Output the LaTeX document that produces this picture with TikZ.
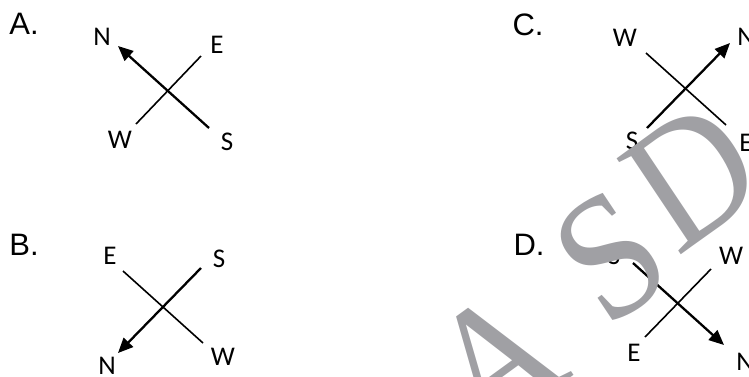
\documentclass[tikz,border=0pt]{standalone}
\usepackage{fontspec}
\setmainfont{Carlito}
\newfontfamily\optfont{Liberation Sans}
\newfontfamily\markfont{Liberation Serif}
\usetikzlibrary{arrows.meta}
\definecolor{markgray}{RGB}{160,160,164}

\begin{document}
\begin{tikzpicture}[x=1pt, y=-1pt,
    opt/.style={font=\optfont\fontsize{31}{31}\selectfont, inner sep=0},
    dir/.style={font=\fontsize{27}{27}\selectfont, inner sep=0},
    arm/.style={line width=1.6pt},
    pointer/.style={line width=2.3pt, -{Triangle[length=15pt, width=13pt]}},
    letterat/.style={cm={1.294, 0.94, -0.98, 1.465, #1}},
    wmletter/.style={transform shape, anchor=base west, text=markgray, inner sep=0,
        font=\markfont\fontsize{100}{100}\selectfont}]
    \useasboundingbox (0, 0) rectangle (749, 376);
    % option A
    \node [opt] (optA) at (24, 24) {A.};
    \node [dir] (aN) at (102, 37) {N};
    \node [dir] (aE) at (217, 45) {E};
    \node [dir] (aW) at (120, 140) {W};
    \node [dir] (aS) at (227, 142) {S};
    \coordinate (aNend) at (118, 46); \coordinate (aSend) at (209, 128);
    \coordinate (aEend) at (201, 56); \coordinate (aWend) at (136, 124);
    \draw [arm] (aEend)--(aWend);
    \draw [pointer] (aSend)--(aNend);
    % option B
    \node [opt] (optB) at (24, 245) {B.};
    \node [dir] (bE) at (110, 256) {E};
    \node [dir] (bS) at (219, 259) {S};
    \node [dir] (bW) at (223, 357) {W};
    \node [dir] (bN) at (107, 366) {N};
    \coordinate (bNend) at (118, 353); \coordinate (bSend) at (201, 268);
    \coordinate (bEend) at (123, 271); \coordinate (bWend) at (203, 343);
    \draw [arm] (bEend)--(bWend);
    \draw [pointer] (bSend)--(bNend);
    % option C
    \node [opt] (optC) at (528, 25) {C.};
    \node [dir] (cW) at (625, 38) {W};
    \node [dir] (cN) at (746, 37) {N};
    \node [dir] (cS) at (632, 141) {S};
    \node [dir] (cE) at (746, 143) {E};
    \coordinate (cNend) at (730, 43); \coordinate (cSend) at (647, 128);
    \coordinate (cWend) at (646, 53); \coordinate (cEend) at (726, 125);
    \draw [arm] (cWend)--(cEend);
    \draw [pointer] (cSend)--(cNend);
    % option D
    \node [opt] (optD) at (529, 245) {D.};
    \node [dir] (dS) at (614, 256) {S};
    \node [dir] (dW) at (731, 256) {W};
    \node [dir] (dE) at (634, 353) {E};
    \node [dir] (dN) at (745, 362) {N};
    \coordinate (dNend) at (724, 345); \coordinate (dSend) at (633, 263);
    \coordinate (dWend) at (711, 269); \coordinate (dEend) at (645, 337);
    \draw [arm] (dWend)--(dEend);
    \draw [pointer] (dSend)--(dNend);
    % watermark letters, slanted across the right half
    \begin{scope}[letterat={(481, 442.5)}] \node [wmletter] (markA) at (0, 0) {A}; \end{scope}
    \begin{scope}[letterat={(606, 331)}] \node [wmletter] (markS) at (0, 0) {S}; \end{scope}
    \begin{scope}[letterat={(677.6, 258)}] \node [wmletter] (markD) at (0, 0) {D}; \end{scope}
\end{tikzpicture}
\end{document}
